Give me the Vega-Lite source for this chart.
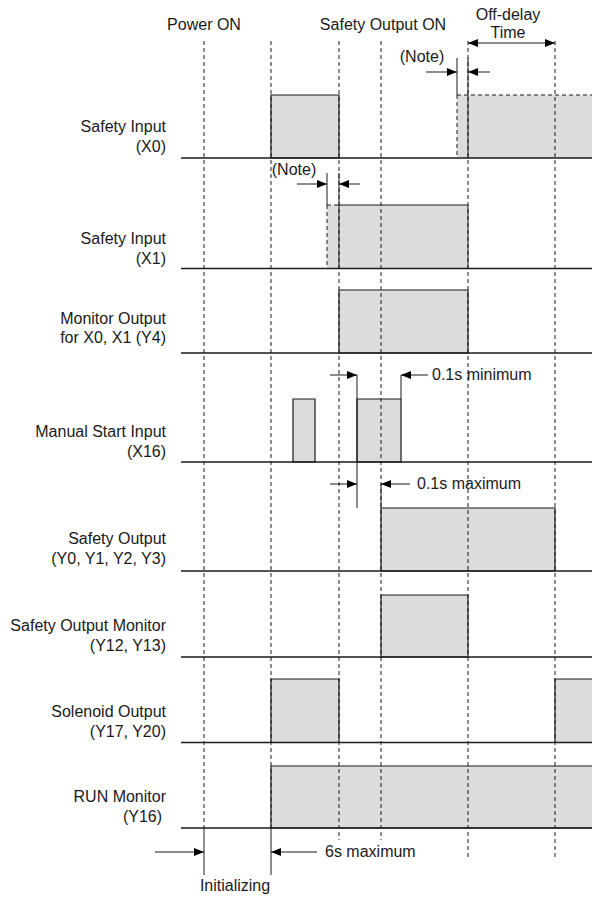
{
  "$schema": "https://vega.github.io/schema/vega-lite/v6.json",
  "width": 592,
  "height": 899,
  "autosize": "none",
  "padding": 0,
  "background": "white",
  "config": {"view": {"stroke": null}},
  "datasets": {
    "pulses": [
      {"signal": "X0", "t0": 271, "t1": 339, "lo": 158, "hi": 95, "kind": "std"},
      {"signal": "X0", "t0": 457, "t1": 594, "lo": 158, "hi": 95, "kind": "special"},
      {"signal": "X1", "t0": 327, "t1": 468, "lo": 268.5, "hi": 205, "kind": "special"},
      {"signal": "Y4", "t0": 339, "t1": 468, "lo": 353, "hi": 290, "kind": "std"},
      {"signal": "X16", "t0": 293, "t1": 315, "lo": 462, "hi": 399, "kind": "std"},
      {"signal": "X16", "t0": 357, "t1": 401, "lo": 462, "hi": 399, "kind": "std"},
      {"signal": "Y0", "t0": 381, "t1": 555, "lo": 571, "hi": 508, "kind": "std"},
      {"signal": "Y12", "t0": 381, "t1": 468, "lo": 657, "hi": 595, "kind": "std"},
      {"signal": "Y17", "t0": 271, "t1": 339, "lo": 742.5, "hi": 679, "kind": "std"},
      {"signal": "Y17", "t0": 555, "t1": 594, "lo": 742.5, "hi": 679, "kind": "std"},
      {"signal": "Y16", "t0": 271, "t1": 594, "lo": 828, "hi": 766, "kind": "std"}
    ],
    "baselines": [
      {"signal": "X0", "t0": 181, "t1": 592, "lvl": 158},
      {"signal": "X1", "t0": 181, "t1": 592, "lvl": 268.5},
      {"signal": "Y4", "t0": 181, "t1": 592, "lvl": 353},
      {"signal": "X16", "t0": 181, "t1": 592, "lvl": 462},
      {"signal": "Y0", "t0": 181, "t1": 592, "lvl": 571},
      {"signal": "Y12", "t0": 181, "t1": 592, "lvl": 657},
      {"signal": "Y17", "t0": 181, "t1": 592, "lvl": 742.5},
      {"signal": "Y16", "t0": 181, "t1": 592, "lvl": 828}
    ],
    "segments": [
      {"t0": 204, "t1": 204, "a": 41, "b": 828, "style": "dashed"},
      {"t0": 271, "t1": 271, "a": 41, "b": 828, "style": "dashed"},
      {"t0": 339, "t1": 339, "a": 41, "b": 840, "style": "dashed"},
      {"t0": 381, "t1": 381, "a": 41, "b": 840, "style": "dashed"},
      {"t0": 468, "t1": 468, "a": 41, "b": 857, "style": "dashed"},
      {"t0": 555, "t1": 555, "a": 41, "b": 857, "style": "dashed"},
      {"t0": 204, "t1": 204, "a": 828, "b": 875, "style": "solid"},
      {"t0": 271, "t1": 271, "a": 828, "b": 875, "style": "solid"},
      {"t0": 457, "t1": 594, "a": 95, "b": 95, "style": "dashed"},
      {"t0": 457, "t1": 457, "a": 95, "b": 158, "style": "dashed"},
      {"t0": 457, "t1": 457, "a": 58, "b": 95, "style": "solid"},
      {"t0": 468, "t1": 468, "a": 58, "b": 158, "style": "solid"},
      {"t0": 327, "t1": 339, "a": 205, "b": 205, "style": "dashed"},
      {"t0": 327, "t1": 327, "a": 205, "b": 268.5, "style": "dashed"},
      {"t0": 327, "t1": 327, "a": 173, "b": 205, "style": "solid"},
      {"t0": 339, "t1": 339, "a": 173, "b": 268.5, "style": "solid"},
      {"t0": 339, "t1": 468, "a": 205, "b": 205, "style": "solid"},
      {"t0": 468, "t1": 468, "a": 205, "b": 268.5, "style": "solid"},
      {"t0": 357, "t1": 357, "a": 375, "b": 508, "style": "solid"},
      {"t0": 401, "t1": 401, "a": 375, "b": 399, "style": "solid"},
      {"t0": 381, "t1": 381, "a": 484, "b": 508, "style": "solid"}
    ],
    "arrows": [
      {"t0": 468, "t1": 555, "lvl": 43},
      {"t0": 426, "t1": 457, "lvl": 72},
      {"t0": 468, "t1": 490, "lvl": 72},
      {"t0": 297, "t1": 327, "lvl": 184},
      {"t0": 339, "t1": 360, "lvl": 184},
      {"t0": 330, "t1": 357, "lvl": 375},
      {"t0": 401, "t1": 428, "lvl": 375},
      {"t0": 330, "t1": 357, "lvl": 484},
      {"t0": 381, "t1": 410, "lvl": 484},
      {"t0": 155, "t1": 204, "lvl": 852},
      {"t0": 271, "t1": 317, "lvl": 852}
    ],
    "heads": [
      {"t": 468, "lvl": 43, "dir": "left"},
      {"t": 555, "lvl": 43, "dir": "right"},
      {"t": 457, "lvl": 72, "dir": "right"},
      {"t": 468, "lvl": 72, "dir": "left"},
      {"t": 327, "lvl": 184, "dir": "right"},
      {"t": 339, "lvl": 184, "dir": "left"},
      {"t": 357, "lvl": 375, "dir": "right"},
      {"t": 401, "lvl": 375, "dir": "left"},
      {"t": 357, "lvl": 484, "dir": "right"},
      {"t": 381, "lvl": 484, "dir": "left"},
      {"t": 204, "lvl": 852, "dir": "right"},
      {"t": 271, "lvl": 852, "dir": "left"}
    ],
    "labels": [
      {"text": "Safety Input", "t": 166, "lvl": 127, "align": "right"},
      {"text": "(X0)", "t": 166, "lvl": 147, "align": "right"},
      {"text": "Safety Input", "t": 166, "lvl": 239, "align": "right"},
      {"text": "(X1)", "t": 166, "lvl": 259, "align": "right"},
      {"text": "Monitor Output", "t": 166, "lvl": 319, "align": "right"},
      {"text": "for X0, X1 (Y4)", "t": 166, "lvl": 338, "align": "right"},
      {"text": "Manual Start Input", "t": 166, "lvl": 432, "align": "right"},
      {"text": "(X16)", "t": 166, "lvl": 452, "align": "right"},
      {"text": "Safety Output", "t": 166, "lvl": 539, "align": "right"},
      {"text": "(Y0, Y1, Y2, Y3)", "t": 166, "lvl": 559, "align": "right"},
      {"text": "Safety Output Monitor", "t": 166, "lvl": 626, "align": "right"},
      {"text": "(Y12, Y13)", "t": 166, "lvl": 646, "align": "right"},
      {"text": "Solenoid Output", "t": 166, "lvl": 712, "align": "right"},
      {"text": "(Y17, Y20)", "t": 166, "lvl": 732, "align": "right"},
      {"text": "RUN Monitor", "t": 166, "lvl": 797, "align": "right"},
      {"text": "(Y16)", "t": 162, "lvl": 817, "align": "right"},
      {"text": "Power ON", "t": 204, "lvl": 25, "align": "center"},
      {"text": "Safety Output ON", "t": 383, "lvl": 25, "align": "center"},
      {"text": "Off-delay", "t": 508, "lvl": 15, "align": "center"},
      {"text": "Time", "t": 508, "lvl": 33, "align": "center"},
      {"text": "(Note)", "t": 422, "lvl": 57, "align": "center"},
      {"text": "(Note)", "t": 294, "lvl": 170, "align": "center"},
      {"text": "0.1s minimum", "t": 432, "lvl": 375, "align": "left"},
      {"text": "0.1s maximum", "t": 417, "lvl": 484, "align": "left"},
      {"text": "6s maximum", "t": 325, "lvl": 852, "align": "left"},
      {"text": "Initializing", "t": 235, "lvl": 886, "align": "center"}
    ]
  },
  "layer": [
    {
      "data": {"name": "pulses"},
      "mark": {"type": "rect", "fill": "#dcdcdc", "strokeWidth": 0},
      "encoding": {
        "x": {"field": "t0", "type": "quantitative", "scale": {"domain": [0, 592], "nice": false, "zero": false}, "axis": null},
        "x2": {"field": "t1"},
        "y": {"field": "hi", "type": "quantitative", "scale": {"domain": [0, 899], "nice": false, "zero": false, "reverse": true}, "axis": null},
        "y2": {"field": "lo"}
      }
    },
    {
      "data": {"name": "segments"},
      "mark": {"type": "rule", "color": "#1a1a1a", "strokeWidth": 1},
      "encoding": {
        "x": {"field": "t0", "type": "quantitative"},
        "x2": {"field": "t1"},
        "y": {"field": "a", "type": "quantitative"},
        "y2": {"field": "b"},
        "strokeDash": {"field": "style", "type": "nominal", "scale": {"domain": ["solid", "dashed"], "range": [[1, 0], [4, 3]]}, "legend": null}
      }
    },
    {
      "data": {"name": "pulses"},
      "transform": [{"filter": "datum.kind === 'std'"}],
      "mark": {"type": "rect", "fill": "#dcdcdc", "fillOpacity": 0, "stroke": "#1a1a1a", "strokeWidth": 1.2},
      "encoding": {
        "x": {"field": "t0", "type": "quantitative"},
        "x2": {"field": "t1"},
        "y": {"field": "hi", "type": "quantitative"},
        "y2": {"field": "lo"}
      }
    },
    {
      "data": {"name": "baselines"},
      "mark": {"type": "rule", "color": "#1a1a1a", "strokeWidth": 1.3},
      "encoding": {
        "x": {"field": "t0", "type": "quantitative"},
        "x2": {"field": "t1"},
        "y": {"field": "lvl", "type": "quantitative"}
      }
    },
    {
      "data": {"name": "arrows"},
      "mark": {"type": "rule", "color": "#1a1a1a", "strokeWidth": 1},
      "encoding": {
        "x": {"field": "t0", "type": "quantitative"},
        "x2": {"field": "t1"},
        "y": {"field": "lvl", "type": "quantitative"}
      }
    },
    {
      "data": {"name": "heads"},
      "mark": {"type": "point", "filled": true, "fill": "#000000", "opacity": 1, "strokeWidth": 0, "size": 100},
      "encoding": {
        "x": {"field": "t", "type": "quantitative"},
        "y": {"field": "lvl", "type": "quantitative"},
        "shape": {"field": "dir", "type": "nominal", "scale": {"domain": ["right", "left"], "range": ["M0,0L-2,-0.8L-2,0.8Z", "M0,0L2,-0.8L2,0.8Z"]}, "legend": null}
      }
    },
    {
      "data": {"name": "labels"},
      "transform": [{"filter": "datum.align === 'right'"}],
      "mark": {"type": "text", "font": "Liberation Sans", "fontSize": 16, "color": "#1a1a1a", "baseline": "middle", "align": "right"},
      "encoding": {
        "x": {"field": "t", "type": "quantitative"},
        "y": {"field": "lvl", "type": "quantitative"},
        "text": {"field": "text", "type": "nominal"}
      }
    },
    {
      "data": {"name": "labels"},
      "transform": [{"filter": "datum.align === 'center'"}],
      "mark": {"type": "text", "font": "Liberation Sans", "fontSize": 16, "color": "#1a1a1a", "baseline": "middle", "align": "center"},
      "encoding": {
        "x": {"field": "t", "type": "quantitative"},
        "y": {"field": "lvl", "type": "quantitative"},
        "text": {"field": "text", "type": "nominal"}
      }
    },
    {
      "data": {"name": "labels"},
      "transform": [{"filter": "datum.align === 'left'"}],
      "mark": {"type": "text", "font": "Liberation Sans", "fontSize": 16, "color": "#1a1a1a", "baseline": "middle", "align": "left"},
      "encoding": {
        "x": {"field": "t", "type": "quantitative"},
        "y": {"field": "lvl", "type": "quantitative"},
        "text": {"field": "text", "type": "nominal"}
      }
    }
  ]
}
